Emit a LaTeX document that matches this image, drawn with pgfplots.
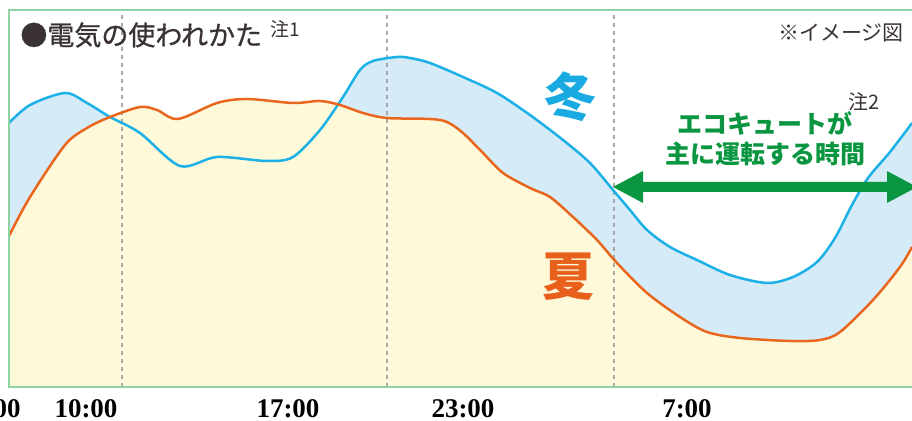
\documentclass[border=0pt]{standalone}
\usepackage{fontspec}
\usepackage{pgfplots}
\pgfplotsset{compat=1.18}
\usepackage{pgfplotstable}
\usepgfplotslibrary{fillbetween}
\newfontfamily\jp{Noto Sans CJK JP}
\newfontfamily\jpm{Noto Sans CJK JP}[FakeBold=0.8]
\newfontfamily\tickserif{Liberation Serif}
\definecolor{winterline}{HTML}{1BB1E7}
\definecolor{summerline}{HTML}{E9661F}
\definecolor{winterfill}{HTML}{D5EBF8}
\definecolor{summerfill}{HTML}{FEF9D9}
\definecolor{arrowgreen}{HTML}{0A9640}
\definecolor{framegreen}{HTML}{8ED3A2}
\definecolor{titlegray}{HTML}{3A3232}
\definecolor{gridgray}{HTML}{A8A8A8}
\definecolor{winterText}{HTML}{1AAAE2}
\definecolor{summerText}{HTML}{E8611C}

% x = pixel column, y = 387 - pixel row (0 = bottom of frame)
\pgfplotstableread{
x y
9 264
30 282
65 294
87 284
110 270
140 254
180 221
217 230
267 226
293 230
320 257
343 290
360 317
373 326
397 330
410 329
430 324
463 310
497 294
530 272
563 247
590 224
613 197
630 177
647 157
670 140
697 127
730 112
767 104
793 110
817 125
835 149
852 182
868 209
890 235
912 264
}\winter

\pgfplotstableread{
x y
9 151
30 190
65 242
87 259
110 270
140 280
157 277
178 268
217 284
247 288
293 284
320 286
340 282
363 274
387 269
430 268
447 265
463 254
483 234
503 214
530 199
550 190
573 170
597 147
617 124
647 94
680 70
707 55
740 49
790 46
820 47
840 55
873 87
900 120
912 140
}\summer

\begin{document}
\begin{tikzpicture}
\begin{axis}[
  scale only axis, width=456pt, height=210.5pt,
  xmin=0, xmax=912, ymin=-34, ymax=387,
  axis lines=none, clip=false,
]
\addplot[name path=W, draw=none, smooth, tension=0.5] table {\winter};
\addplot[name path=S, draw=none, smooth, tension=0.5] table {\summer};
\path[name path=B] (axis cs:9,0) -- (axis cs:912,0);
\addplot[winterfill, draw=none] fill between[of=W and B];
\addplot[summerfill, draw=none] fill between[of=S and B];

% grid lines
\draw[gridgray, line width=0.7pt, dash pattern=on 2pt off 2pt] (axis cs:122,0) -- (axis cs:122,377);
\draw[gridgray, line width=0.7pt, dash pattern=on 2pt off 2pt] (axis cs:387,0) -- (axis cs:387,377);
\draw[gridgray, line width=0.7pt, dash pattern=on 2pt off 2pt] (axis cs:614,0) -- (axis cs:614,377);

\addplot[winterline, line width=1.25pt, smooth, tension=0.5] table {\winter};
\addplot[summerline, line width=1.25pt, smooth, tension=0.5] table {\summer};

% frame
\draw[framegreen, line width=1.1pt] (axis cs:915,377) -- (axis cs:9,377) -- (axis cs:9,0) -- (axis cs:915,0);

% arrow
\fill[arrowgreen] (axis cs:613,200) -- (axis cs:643,216) -- (axis cs:643,205) -- (axis cs:887,205)
  -- (axis cs:887,216) -- (axis cs:917,200) -- (axis cs:887,184) -- (axis cs:887,195)
  -- (axis cs:643,195) -- (axis cs:643,184) -- cycle;

% texts
\node[anchor=west, inner sep=0, text=titlegray, font=\jpm\fontsize{13.5}{16}\selectfont] at (axis cs:20,352) {●電気の使われかた};
\node[anchor=west, inner sep=0, text=titlegray, font=\jp\fontsize{9.5}{11}\selectfont] at (axis cs:270,358) {注1};
\node[anchor=east, inner sep=0, text=titlegray, font=\jp\fontsize{10.5}{12}\selectfont] at (axis cs:904,354) {※イメージ図};
\node[inner sep=0, text=winterText, font=\jp\bfseries\fontsize{26}{30}\selectfont] at (axis cs:570,290) {冬};
\node[inner sep=0, text=summerText, font=\jp\bfseries\fontsize{26}{30}\selectfont] at (axis cs:568,110) {夏};
\node[inner sep=0, text=arrowgreen, font=\jp\bfseries\fontsize{12.5}{15}\selectfont] at (axis cs:765,264) {エコキュートが};
\node[inner sep=0, text=arrowgreen, font=\jp\bfseries\fontsize{12.5}{15}\selectfont] at (axis cs:765,233) {主に運転する時間};
\node[inner sep=0, text=titlegray, font=\jp\fontsize{10}{12}\selectfont] at (axis cs:864,285) {注2};

% tick labels
\node[anchor=base east, inner sep=0, font=\tickserif\bfseries\fontsize{13.5}{16}\selectfont] at (axis cs:21,-31) {7:00};
\node[anchor=base, inner sep=0, font=\tickserif\bfseries\fontsize{13.5}{16}\selectfont] at (axis cs:86,-31) {10:00};
\node[anchor=base, inner sep=0, font=\tickserif\bfseries\fontsize{13.5}{16}\selectfont] at (axis cs:288,-31) {17:00};
\node[anchor=base, inner sep=0, font=\tickserif\bfseries\fontsize{13.5}{16}\selectfont] at (axis cs:463,-31) {23:00};
\node[anchor=base, inner sep=0, font=\tickserif\bfseries\fontsize{13.5}{16}\selectfont] at (axis cs:687,-31) {7:00};

\coordinate (BL) at (axis cs:0,-34);
\coordinate (TR) at (axis cs:912,387);
\end{axis}
\pgfresetboundingbox
\useasboundingbox (BL) rectangle (TR);
\end{tikzpicture}
\end{document}
